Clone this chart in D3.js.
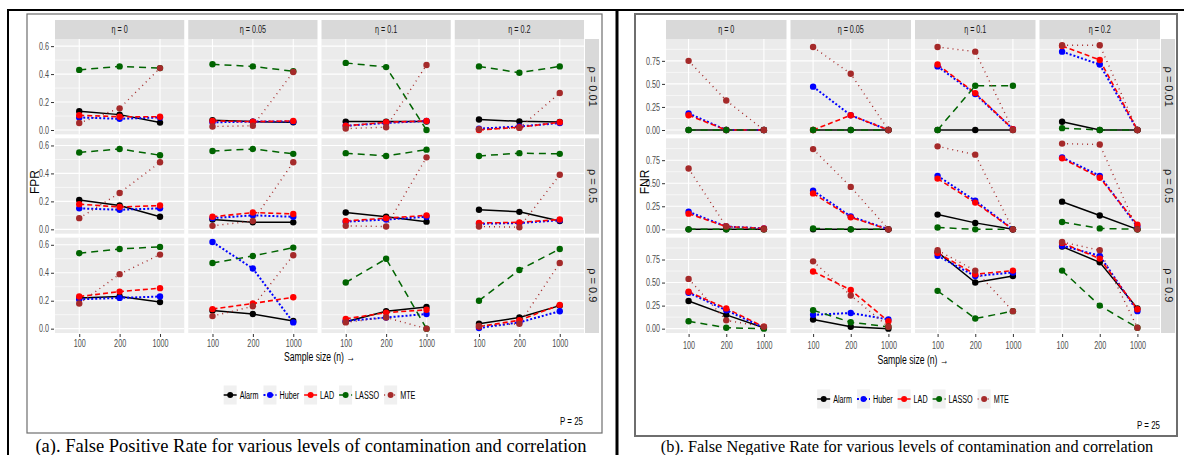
<!DOCTYPE html>
<html>
<head>
<meta charset="utf-8">
<script src="https://cdn.jsdelivr.net/npm/d3@7/dist/d3.min.js"></script>
<style>
  body { margin: 0; background: #fff; }
  svg { display: block; }
</style>
</head>
<body>
<div id="chart"></div>
<script>

// categories and labels
const methods = ["Alarm", "Huber", "LAD", "LASSO", "MTE"];
const etaLabels = ["η = 0", "η = 0.05", "η = 0.1", "η = 0.2"];
const rhoLabels = ["ρ = 0.01", "ρ = 0.5", "ρ = 0.9"];
const sampleSizes = ["100", "200", "1000"];
const fprTicks = [0, 0.2, 0.4, 0.6];
const fnrTicks = [0, 0.25, 0.5, 0.75];

// values: [rho row][eta column][n]
const fprAlarm = [
  [[0.135, 0.11, 0.053], [0.07, 0.06, 0.055], [0.06, 0.06, 0.06], [0.075, 0.062, 0.057]],
  [[0.21, 0.17, 0.09], [0.07, 0.05, 0.05], [0.12, 0.09, 0.055], [0.14, 0.125, 0.06]],
  [[0.22, 0.23, 0.19], [0.13, 0.105, 0.055], [0.05, 0.125, 0.155], [0.035, 0.08, 0.165]]
];
const fprHuber = [
  [[0.09, 0.08, 0.09], [0.055, 0.06, 0.06], [0.03, 0.05, 0.065], [0.01, 0.025, 0.05]],
  [[0.15, 0.14, 0.15], [0.08, 0.10, 0.09], [0.055, 0.07, 0.09], [0.04, 0.045, 0.065]],
  [[0.21, 0.22, 0.23], [0.62, 0.43, 0.045], [0.055, 0.08, 0.105], [0.005, 0.045, 0.125]]
];
const fprLAD = [
  [[0.105, 0.095, 0.095], [0.065, 0.06, 0.065], [0.03, 0.055, 0.065], [0.0, 0.02, 0.055]],
  [[0.18, 0.16, 0.17], [0.09, 0.12, 0.11], [0.06, 0.08, 0.10], [0.045, 0.05, 0.07]],
  [[0.23, 0.265, 0.29], [0.14, 0.18, 0.225], [0.07, 0.115, 0.135], [0.015, 0.06, 0.17]]
];
const fprLASSO = [
  [[0.43, 0.455, 0.443], [0.47, 0.455, 0.42], [0.48, 0.45, 0.0], [0.455, 0.41, 0.455]],
  [[0.55, 0.575, 0.53], [0.56, 0.575, 0.54], [0.545, 0.525, 0.57], [0.525, 0.545, 0.54]],
  [[0.54, 0.57, 0.585], [0.47, 0.52, 0.58], [0.33, 0.50, 0.0], [0.20, 0.42, 0.57]]
];
const fprMTE = [
  [[0.05, 0.155, 0.443], [0.025, 0.03, 0.415], [0.01, 0.02, 0.465], [0.005, 0.015, 0.265]],
  [[0.08, 0.26, 0.48], [0.025, 0.06, 0.48], [0.025, 0.02, 0.515], [0.02, 0.015, 0.39]],
  [[0.18, 0.39, 0.53], [0.09, 0.16, 0.525], [0.045, 0.08, 0.0], [0.02, 0.035, 0.47]]
];

const fnrAlarm = [
  [[0, 0, 0], [0, 0, 0], [0, 0, 0], [0.09, 0, 0]],
  [[0, 0, 0], [0, 0, 0], [0.16, 0.07, 0], [0.30, 0.15, 0]],
  [[0.30, 0.15, 0.01], [0.10, 0.02, 0], [0.83, 0.50, 0.57], [0.89, 0.72, 0.22]]
];
const fnrHuber = [
  [[0.18, 0, 0], [0.47, 0.16, 0], [0.69, 0.39, 0.01], [0.85, 0.71, 0]],
  [[0.19, 0.03, 0.01], [0.42, 0.14, 0], [0.58, 0.31, 0], [0.78, 0.58, 0.03]],
  [[0.39, 0.20, 0.01], [0.15, 0.17, 0.10], [0.79, 0.57, 0.61], [0.90, 0.79, 0.19]]
];
const fnrLAD = [
  [[0.16, 0, 0], [0, 0.16, 0], [0.71, 0.40, 0.01], [0.91, 0.76, 0]],
  [[0.17, 0.03, 0.01], [0.39, 0.13, 0], [0.55, 0.29, 0], [0.77, 0.56, 0.05]],
  [[0.40, 0.22, 0.02], [0.62, 0.42, 0.08], [0.82, 0.59, 0.63], [0.93, 0.76, 0.21]]
];
const fnrLASSO = [
  [[0, 0, 0], [0, 0, 0], [0, 0.48, 0.48], [0.02, 0, 0]],
  [[0, 0, 0], [0.01, 0, 0], [0.02, 0, 0], [0.08, 0.01, 0]],
  [[0.08, 0.01, 0], [0.20, 0.07, 0.02], [0.41, 0.11, 0.19], [0.63, 0.25, 0.01]]
];
const fnrMTE = [
  [[0.75, 0.32, 0], [0.90, 0.61, 0], [0.90, 0.85, 0], [0.92, 0.92, 0]],
  [[0.66, 0.03, 0], [0.87, 0.46, 0], [0.90, 0.81, 0], [0.93, 0.92, 0]],
  [[0.54, 0.09, 0.02], [0.73, 0.36, 0.02], [0.85, 0.63, 0.19], [0.94, 0.85, 0.01]]
];

// line styles for each method
const styles = {
  Alarm: { color: "#000000", dash: null, width: 1.5 },
  Huber: { color: "#0000ff", dash: "2,2", width: 2 },
  LAD:   { color: "#ff0000", dash: "5,3", width: 1.6 },
  LASSO: { color: "#006400", dash: "7,5", width: 1.5 },
  MTE:   { color: "#a52a2a", dash: "1,4", width: 1.4 }
};

const W = 1189, H = 455;
const sans = "'Liberation Sans', Arial, sans-serif";

// the original figure is horizontally squeezed: compress glyphs to match
function squeeze(sel, f) {
  sel.each(function() {
    const L = this.getComputedTextLength();
    d3.select(this).attr("textLength", L * f).attr("lengthAdjust", "spacingAndGlyphs");
  });
}

const svg = d3.select("#chart").append("svg")
  .attr("width", W).attr("height", H);

// black table borders
svg.append("line").attr("x1", 8).attr("x2", 1184).attr("y1", 10).attr("y2", 10)
  .attr("stroke", "#000").attr("stroke-width", 2);
svg.append("line").attr("x1", 8).attr("x2", 8).attr("y1", 9).attr("y2", H)
  .attr("stroke", "#000").attr("stroke-width", 2);
svg.append("line").attr("x1", 617).attr("x2", 617).attr("y1", 9).attr("y2", H)
  .attr("stroke", "#000").attr("stroke-width", 3);

function drawFacets(cfg) {
  const g = svg.append("g");
  const series = cfg.data;

  // gray picture frame
  g.append("rect")
    .attr("x", cfg.frame[0]).attr("y", cfg.frame[1])
    .attr("width", cfg.frame[2] - cfg.frame[0]).attr("height", cfg.frame[3] - cfg.frame[1])
    .attr("fill", "#fff").attr("stroke", "#6e6e6e").attr("stroke-width", cfg.frameW);

  const gap = 4;
  const pw = (cfg.right - cfg.left - 3 * gap) / 4;
  const ph = (cfg.bottom - cfg.top - 2 * gap) / 3;

  const maxV = d3.max(series.flat(3));
  const pad = maxV * 0.05;
  const minor = d3.pairs(cfg.ticks).map(p => (p[0] + p[1]) / 2)
    .concat([cfg.ticks[cfg.ticks.length - 1] + (cfg.ticks[1] - cfg.ticks[0]) / 2]);

  for (let c = 0; c < 4; c++) {
    const x0 = cfg.left + c * (pw + gap);
    const x = d3.scalePoint().domain(sampleSizes).range([x0, x0 + pw]).padding(0.6);

    // top strip
    g.append("rect").attr("x", x0).attr("y", cfg.stripTop)
      .attr("width", pw).attr("height", cfg.top - cfg.stripTop).attr("fill", "#d9d9d9");
    g.append("text").attr("x", x0 + pw / 2).attr("y", (cfg.stripTop + cfg.top) / 2 + 3.5)
      .attr("text-anchor", "middle").attr("font-family", sans).attr("font-size", 10)
      .attr("fill", "#1a1a1a").text(etaLabels[c])
      .call(squeeze, 0.72);

    for (let r = 0; r < 3; r++) {
      const y0 = cfg.top + r * (ph + gap);
      const y = d3.scaleLinear().domain([-pad, maxV + pad]).range([y0 + ph, y0]);
      const p = g.append("g");

      p.append("rect").attr("x", x0).attr("y", y0).attr("width", pw).attr("height", ph)
        .attr("fill", "#ebebeb");
      p.selectAll(".minor").data(minor.filter(v => y(v) > y0)).join("line")
        .attr("x1", x0).attr("x2", x0 + pw).attr("y1", d => y(d)).attr("y2", d => y(d))
        .attr("stroke", "#fff").attr("stroke-width", 0.6);
      p.selectAll(".major").data(cfg.ticks).join("line")
        .attr("x1", x0).attr("x2", x0 + pw).attr("y1", d => y(d)).attr("y2", d => y(d))
        .attr("stroke", "#fff").attr("stroke-width", 1.1);
      p.selectAll(".vmajor").data(sampleSizes).join("line")
        .attr("x1", d => x(d)).attr("x2", d => x(d)).attr("y1", y0).attr("y2", y0 + ph)
        .attr("stroke", "#fff").attr("stroke-width", 1.1);

      const line = d3.line().x((d, i) => x(sampleSizes[i])).y(d => y(d));
      methods.forEach((m, k) => {
        const vals = series[k][r][c];
        const st = styles[m];
        p.append("path").datum(vals).attr("d", line)
          .attr("fill", "none").attr("stroke", st.color).attr("stroke-width", st.width)
          .attr("stroke-dasharray", st.dash);
      });
      methods.forEach((m, k) => {
        const vals = series[k][r][c];
        p.selectAll(".pt" + k).data(vals).join("circle")
          .attr("cx", (d, i) => x(sampleSizes[i])).attr("cy", d => y(d))
          .attr("r", 3.2).attr("fill", styles[m].color);
      });

      if (c === 0) {
        const ax = g.append("g").attr("transform", `translate(${x0 - 1},0)`)
          .call(d3.axisLeft(y).tickValues(cfg.ticks).tickFormat(cfg.fmt).tickSize(3).tickPadding(2));
        ax.select(".domain").remove();
        ax.selectAll("line").attr("stroke", "#333");
        ax.selectAll("text").attr("font-family", sans).attr("font-size", 10).attr("fill", "#4d4d4d")
          .call(squeeze, 0.72);
      }
      if (c === 3) {
        g.append("rect").attr("x", x0 + pw + 1).attr("y", y0)
          .attr("width", 14).attr("height", ph).attr("fill", "#d9d9d9");
        g.append("text")
          .attr("transform", `translate(${x0 + pw + 4.5},${y0 + ph / 2}) rotate(90)`)
          .attr("text-anchor", "middle").attr("font-family", sans)
          .attr("font-size", 11).attr("fill", "#1a1a1a").text(rhoLabels[r]);
      }
      if (r === 2) {
        const bx = g.append("g").attr("transform", `translate(0,${y0 + ph + 1})`)
          .call(d3.axisBottom(x).tickSize(3).tickPadding(cfg.xPad));
        bx.select(".domain").remove();
        bx.selectAll("line").attr("stroke", "#333");
        bx.selectAll("text").attr("font-family", sans).attr("font-size", 10).attr("fill", "#4d4d4d")
          .call(squeeze, 0.72);
      }
    }
  }

  const mid = (cfg.left + cfg.right) / 2;
  g.append("text").attr("x", mid).attr("y", cfg.xTitleY).attr("text-anchor", "middle")
    .attr("font-family", sans).attr("font-size", 12).attr("fill", "#000")
    .text("Sample size (n) →")
    .call(squeeze, 0.72);
  g.append("text")
    .attr("transform", `translate(${cfg.yTitleX},${(cfg.top + cfg.bottom) / 2 - 4}) rotate(-90)`)
    .attr("text-anchor", "middle").attr("font-family", sans)
    .attr("font-size", 12).attr("fill", "#000").text(cfg.yTitle);

  // legend
  const lg = g.append("g");
  let lx = 0;
  methods.forEach(m => {
    const st = styles[m];
    const it = lg.append("g").attr("transform", `translate(${lx},0)`);
    it.append("rect").attr("x", 0).attr("y", -9.5).attr("width", 13).attr("height", 19)
      .attr("fill", "#f0f0f0");
    it.append("line").attr("x1", 0).attr("x2", 13).attr("y1", 0).attr("y2", 0)
      .attr("stroke", st.color).attr("stroke-width", st.width).attr("stroke-dasharray", st.dash);
    it.append("circle").attr("cx", 6.5).attr("cy", 0).attr("r", 3).attr("fill", st.color);
    const t = it.append("text").attr("x", 16).attr("y", 4).attr("font-family", sans)
      .attr("font-size", 10).attr("fill", "#000").text(m);
    const tw = t.node().getComputedTextLength() * 0.72;
    t.call(squeeze, 0.72);
    lx += 16 + tw + 5;
  });
  lg.attr("transform", `translate(${mid - (lx - 5) / 2},${cfg.legendY})`);

  g.append("text").attr("x", cfg.pX).attr("y", cfg.pY).attr("text-anchor", "end")
    .attr("font-family", sans).attr("font-size", 11).attr("fill", "#000").text("P = 25")
    .call(squeeze, 0.72);

  g.append("text").attr("x", cfg.capX).attr("y", 452).attr("text-anchor", "middle")
    .attr("font-family", "'Liberation Serif', serif").attr("font-size", cfg.capSize)
    .attr("fill", "#000").text(cfg.caption);
}

drawFacets({
  data: [fprAlarm, fprHuber, fprLAD, fprLASSO, fprMTE],
  ticks: fprTicks, fmt: d3.format(".1f"),
  frame: [27, 14, 602, 433], frameW: 1.2,
  left: 55, right: 584, stripTop: 20, top: 39, bottom: 333,
  xPad: 3, xTitleY: 361, yTitle: "FPR", yTitleX: 39,
  legendY: 395, pX: 583, pY: 425,
  caption: "(a). False Positive Rate for various levels of contamination and correlation",
  capX: 311, capSize: 18.5
});

drawFacets({
  data: [fnrAlarm, fnrHuber, fnrLAD, fnrLASSO, fnrMTE],
  ticks: fnrTicks, fmt: d3.format(".2f"),
  frame: [635, 14, 1177, 436], frameW: 2,
  left: 666, right: 1160, stripTop: 20, top: 39, bottom: 333,
  xPad: 5, xTitleY: 364, yTitle: "FNR", yTitleX: 649,
  legendY: 399, pX: 1160, pY: 429,
  caption: "(b). False Negative Rate for various levels of contamination and correlation",
  capX: 907, capSize: 16.3
});

</script>
</body>
</html>
